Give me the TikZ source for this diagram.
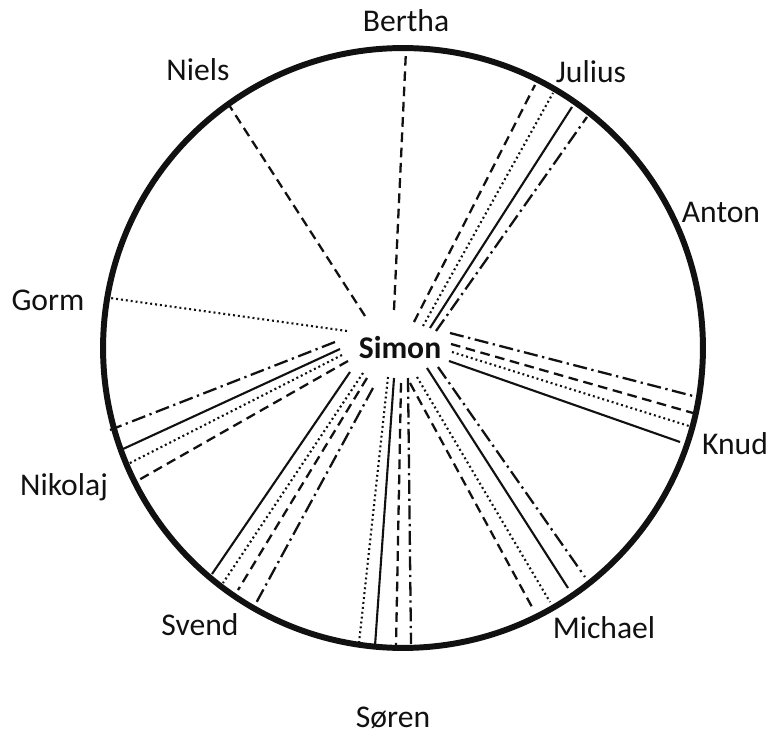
\documentclass[tikz,border=0pt]{standalone}
\usepackage{fontspec}
\setmainfont{Carlito}
\usepackage{tikz}
\usetikzlibrary{arrows.meta,calc}
\usepackage{xcolor}
\definecolor{TieInk}{HTML}{111111}

\tikzset{
  ring/.style={line width=3.4pt,TieInk},
  person/.style={anchor=base,inner sep=0pt,TieInk},
  solidline/.style={line width=1.2pt,TieInk},
  dashline/.style={line width=1.3pt,TieInk,dash pattern=on 5.5pt off 3.2pt},
  dotline/.style={line width=1.2pt,TieInk,dash pattern=on 1.1pt off 1.7pt},
  dashdotline/.style={line width=1.3pt,TieInk,dash pattern=on 8pt off 2.6pt on 1.3pt off 2.6pt}
}

\begin{document}
\begin{tikzpicture}[x=0.02cm,y=-0.02cm,font=\fontsize{18}{22}\selectfont]
  \useasboundingbox (0,0) rectangle (771,733);
  \coordinate (centre) at (403,348);
  \draw[ring] (centre) circle (6cm);

  \node[person,font=\fontsize{18}{22}\selectfont\bfseries] (simon) at (400,358) {Simon};
  \foreach \n/\x/\y/\txt in {bertha/406/32/Bertha, julius/591/83/Julius, niels/198/81/Niels,
      anton/721/223/Anton, gorm/48/311/Gorm, knud/735/454/Knud, nikolaj/64/495/Nikolaj,
      svend/200/635/Svend, michael/604/638/Michael, soren/393/727/Søren}{
    \node[person] (\n) at (\x,\y) {\txt};
  }

  \foreach \n/\s/\ax/\ay/\bx/\by in {
      ber/dashline/394/310/406/50,
      nie/dashline/365/316/229/105,
      gor/dotline/347/331/110/298,
      jul1/dashline/414/322/535/85,
      jul2/dotline/423/326/553/93,
      jul3/solidline/430/328/572/107,
      jul4/dashdotline/436/331/587/117,
      knu1/dashdotline/450/333/697/397,
      knu2/dashline/451/344/693/413,
      knu3/dotline/452/352/689/426,
      knu4/solidline/449/361/680/442,
      nik1/dashdotline/335/342/110/430,
      nik2/solidline/340/349/123/449,
      nik3/dotline/342/355/128/464,
      nik4/dashline/348/361/137/481,
      sve1/solidline/350/372/212/574,
      sve2/dotline/363/373/223/583,
      sve3/dashline/367/378/238/590,
      sve4/dashdotline/373/388/255/605,
      sor1/dotline/388/377/359/643,
      sor2/solidline/394/378/375/646,
      sor3/dashline/401/383/396/647,
      sor4/dashdotline/408/378/411/644,
      mic1/dashline/410/383/532/607,
      mic2/dotline/417/377/550/602,
      mic3/solidline/427/368/568/588,
      mic4/dashdotline/438/367/585/577}{
    \coordinate (\n-in) at (\ax,\ay);
    \coordinate (\n-out) at (\bx,\by);
    \draw[\s] (\n-in) -- (\n-out);
  }
\end{tikzpicture}
\end{document}
